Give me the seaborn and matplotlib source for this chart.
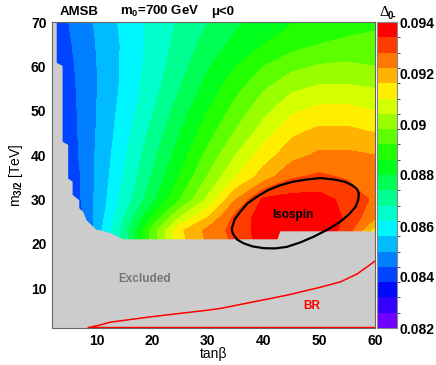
import numpy as np
import matplotlib
matplotlib.use('Agg')
import matplotlib.pyplot as plt
from matplotlib.colors import ListedColormap, BoundaryNorm, hsv_to_rgb
from matplotlib.ticker import MultipleLocator
import seaborn as sns

tanb = [2, 5, 8, 11, 14, 17, 20, 25, 30, 35, 40, 45, 50, 55, 60]
m32 = [20, 23, 26, 30, 35, 40, 45, 50, 55, 60, 65, 70]

# one row of Delta_0- per m3/2 value
d_m20 = [0.08248, 0.08338, 0.08428, 0.08554, 0.08662, 0.08794, 0.08938, 0.09136, 0.09226, 0.09292, 0.09364, 0.09376, 0.09376, 0.09298, 0.0910]
d_m23 = [0.0826, 0.0835, 0.0844, 0.0856, 0.08668, 0.0880, 0.08944, 0.09148, 0.09238, 0.09304, 0.0937, 0.09388, 0.09388, 0.09316, 0.0913]
d_m26 = [0.0829, 0.08362, 0.08452, 0.08548, 0.08644, 0.08752, 0.08866, 0.0904, 0.0916, 0.09298, 0.0937, 0.09388, 0.09388, 0.09328, 0.09232]
d_m30 = [0.0832, 0.08374, 0.08464, 0.08536, 0.0862, 0.08698, 0.08782, 0.0892, 0.09052, 0.0922, 0.09352, 0.09364, 0.09364, 0.09322, 0.09268]
d_m35 = [0.0835, 0.0838, 0.08464, 0.0853, 0.08602, 0.08674, 0.08746, 0.08866, 0.08986, 0.0910, 0.0919, 0.09274, 0.09292, 0.09274, 0.0925]
d_m40 = [0.08356, 0.08398, 0.0847, 0.08524, 0.0859, 0.08656, 0.08722, 0.0883, 0.08938, 0.0904, 0.0913, 0.09196, 0.09232, 0.09232, 0.0922]
d_m45 = [0.08362, 0.08404, 0.0847, 0.08518, 0.08578, 0.08638, 0.08698, 0.0880, 0.08896, 0.08986, 0.0907, 0.09148, 0.09178, 0.09178, 0.0916]
d_m50 = [0.08368, 0.0841, 0.0847, 0.08515, 0.08569, 0.0862, 0.08674, 0.0877, 0.0886, 0.08944, 0.09022, 0.09088, 0.09118, 0.09118, 0.0910]
d_m55 = [0.08374, 0.08416, 0.0847, 0.08512, 0.0856, 0.08608, 0.08656, 0.0874, 0.08824, 0.08902, 0.08974, 0.09028, 0.09052, 0.09052, 0.0904]
d_m60 = [0.0838, 0.08422, 0.08473, 0.08512, 0.08557, 0.08602, 0.08644, 0.08716, 0.08794, 0.0886, 0.0892, 0.08962, 0.08986, 0.08992, 0.0898]
d_m65 = [0.08386, 0.08431, 0.08476, 0.08515, 0.08557, 0.08599, 0.08638, 0.08701, 0.08764, 0.08818, 0.0886, 0.08896, 0.0892, 0.08932, 0.08938]
d_m70 = [0.08392, 0.0844, 0.08482, 0.08521, 0.08563, 0.08602, 0.08635, 0.08689, 0.0874, 0.08788, 0.08824, 0.08854, 0.08878, 0.08896, 0.08908]

# upper edge of the excluded region
excl_tanb = [2.0, 2.85, 2.85, 3.9, 3.9, 4.9, 4.9, 5.7, 5.7, 6.9, 6.9, 7.6, 8.2, 10.0, 10.6, 12.7, 14.8, 42.5, 43.0, 60.0]
excl_m32 = [70, 70, 60.8, 60.1, 43.0, 42.3, 34.7, 34.0, 31.0, 29.8, 28.0, 27.2, 25.3, 23.1, 23.1, 22.3, 21.0, 21.0, 22.8, 22.8]

# BR limit
br_tanb = [60.0, 8.5, 10.6, 12.4, 15.4, 19.6, 25.0, 29.8, 32.2, 38.2, 44.2, 50.2, 53.8, 56.8, 58.6, 60.0]
br_m32 = [1.1, 1.1, 1.65, 2.3, 2.8, 3.5, 4.3, 5.0, 5.4, 6.9, 8.4, 10.2, 11.4, 13.2, 14.8, 16.1]

# isospin contour
iso_tanb = [34.3, 34.8, 35.8, 37.1, 38.8, 40.8, 43.0, 45.3, 47.8, 50.2, 52.6, 54.5, 55.9, 56.7, 57.1,
            57.0, 56.5, 55.3, 53.8, 51.5, 49.0, 46.6, 44.2, 42.1, 40.0, 38.0, 36.4, 35.3, 34.6, 34.35, 34.3]
iso_m32 = [23.5, 25.5, 27.2, 29.1, 30.6, 32.1, 33.2, 34.0, 34.5, 34.8, 34.5, 34.0, 33.2, 32.4, 31.4,
           29.9, 28.3, 26.6, 25.0, 23.2, 21.6, 20.3, 19.3, 18.95, 19.0, 19.4, 20.1, 20.9, 22.0, 22.8, 23.5]

cbar_ticks = [0.082, 0.084, 0.086, 0.088, 0.090, 0.092, 0.094]
cbar_labels = ['0.082', '0.084', '0.086', '0.088', '0.09', '0.092', '0.094']

sns.set_style('white')
plt.rcParams['font.family'] = ['Liberation Sans', 'DejaVu Sans']
plt.rcParams['font.weight'] = 'bold'
plt.rcParams['text.color'] = 'black'
plt.rcParams['axes.labelcolor'] = 'black'
plt.rcParams['mathtext.fontset'] = 'custom'
plt.rcParams['mathtext.rm'] = 'Liberation Sans:bold'
plt.rcParams['mathtext.it'] = 'Liberation Sans:bold'
plt.rcParams['mathtext.bf'] = 'Liberation Sans:bold'
plt.rcParams['mathtext.default'] = 'rm'

W, H = 436, 365
fig = plt.figure(figsize=(W / 100, H / 100), dpi=100)
ax = fig.add_axes([52 / W, 37 / H, 323 / W, 306 / H])
cax = fig.add_axes([377 / W, 37 / H, 20 / W, 306 / H])

# ROOT-like rainbow palette, 20 bands
levels = np.linspace(0.082, 0.094, 21)
pal = [hsv_to_rgb((266 / 360 * (1 - i / 19), 1, 1)) for i in range(20)]
cmap = ListedColormap(pal)
norm = BoundaryNorm(levels, cmap.N)

Z = np.array([d_m20, d_m23, d_m26, d_m30, d_m35, d_m40, d_m45,
              d_m50, d_m55, d_m60, d_m65, d_m70])
cs = ax.contourf(tanb, m32, Z, levels=levels, cmap=cmap, norm=norm, zorder=1)

ax.fill(np.r_[excl_tanb, 60, 2], np.r_[excl_m32, 1, 1], color='#cccccc', lw=0, zorder=2)

sns.lineplot(x=br_tanb, y=br_m32, sort=False, estimator=None, color='red', lw=1.1, ax=ax, zorder=3)
sns.lineplot(x=iso_tanb, y=iso_m32, sort=False, estimator=None, color='black', lw=1.6, ax=ax, zorder=4)

ax.text(18.7, 12, 'Excluded', color='#777777', fontsize=8.5, ha='center', va='center', zorder=5)
ax.text(48.7, 5.9, 'BR', color='red', fontsize=8.5, ha='center', va='center', zorder=5)
ax.text(45.3, 26.5, 'Isospin', color='black', fontsize=8.5, ha='center', va='center', zorder=5)

ax.set_xlim(2, 60)
ax.set_ylim(1, 70)
ax.xaxis.set_major_locator(MultipleLocator(10))
ax.xaxis.set_minor_locator(MultipleLocator(2))
ax.yaxis.set_major_locator(MultipleLocator(10))
ax.yaxis.set_minor_locator(MultipleLocator(2))
ax.tick_params(which='both', direction='in', color='#666666', width=0.8,
               labelsize=10, labelcolor='black', pad=4)
ax.tick_params(which='major', length=8)
ax.tick_params(which='minor', length=4)
for s in ax.spines.values():
    s.set_color('#666666')
    s.set_linewidth(0.8)

ax.set_xlabel('tan\u03b2', fontsize=10, labelpad=0)
ax.set_ylabel('m$_{3/2}$ [TeV]', fontsize=10, labelpad=4)
ax.xaxis.set_label_coords(0.5, -0.062)

cb = fig.colorbar(cs, cax=cax, ticks=cbar_ticks)
cb.ax.set_yticklabels(cbar_labels)
cb.ax.tick_params(direction='in', length=8, width=0.8, color='#555555',
                  labelsize=10, labelcolor='black', pad=2)
cb.outline.set_edgecolor('#888888')
cb.outline.set_linewidth(0.8)

fig.text(60 / W, 1 - 15 / H, 'AMSB', fontsize=9.5, va='baseline')
fig.text(120 / W, 1 - 15 / H, 'm$_0$=700 GeV', fontsize=9.5, va='baseline')
fig.text(211 / W, 1 - 15 / H, '\u03bc<0', fontsize=9.5, va='baseline')
fig.text(379 / W, 1 - 16 / H, '\u0394', fontsize=11, fontweight='normal', family='Liberation Serif', va='baseline')
fig.text(388 / W, 1 - 19 / H, '0-', fontsize=7, va='baseline')

fig.savefig('out.png', dpi=100)
